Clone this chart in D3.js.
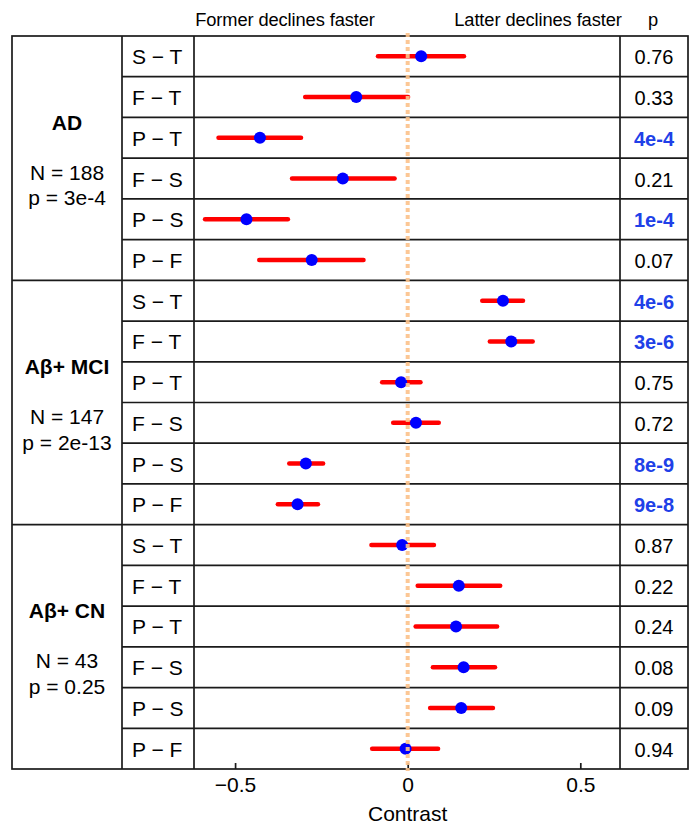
<!DOCTYPE html>
<html><head><meta charset="utf-8">
<script src="https://cdn.jsdelivr.net/npm/d3@7"></script>
<style>body{margin:0;background:#fff}svg{display:block;font-family:"Liberation Sans",Arial,sans-serif}</style>
</head><body>
<svg id="chart" width="691" height="827"></svg>
<script>
const groups = ["AD", "Aβ+ MCI", "Aβ+ CN"];
const groupN = ["188", "147", "43"];
const groupP = ["3e-4", "2e-13", "0.25"];
const contrasts = ["S − T", "F − T", "P − T", "F − S", "P − S", "P − F"];

const estAD  = [0.039, -0.149, -0.428, -0.188, -0.467, -0.278];
const loAD   = [-0.086, -0.297, -0.548, -0.335, -0.587, -0.430];
const hiAD   = [0.163, 0.001, -0.309, -0.038, -0.347, -0.128];
const pAD    = ["0.76", "0.33", "4e-4", "0.21", "1e-4", "0.07"];

const estMCI = [0.276, 0.300, -0.019, 0.024, -0.295, -0.319];
const loMCI  = [0.216, 0.238, -0.074, -0.042, -0.343, -0.376];
const hiMCI  = [0.334, 0.362, 0.037, 0.090, -0.245, -0.260];
const pMCI   = ["4e-6", "3e-6", "0.75", "0.72", "8e-9", "9e-8"];

const estCN  = [-0.016, 0.148, 0.140, 0.162, 0.155, -0.006];
const loCN   = [-0.105, 0.029, 0.023, 0.073, 0.065, -0.103];
const hiCN   = [0.076, 0.268, 0.259, 0.253, 0.247, 0.088];
const pCN    = ["0.87", "0.22", "0.24", "0.08", "0.09", "0.94"];

const xTicks = [-0.5, 0, 0.5];
const headerLeft = "Former declines faster";
const headerRight = "Latter declines faster";
const xTitle = "Contrast";

const ests = [estAD, estMCI, estCN], los = [loAD, loMCI, loCN], his = [hiAD, hiMCI, hiCN], ps = [pAD, pMCI, pCN];
const rows = [];
groups.forEach((g, gi) => contrasts.forEach((c, ci) => rows.push({
  key: gi + "-" + ci, g: gi, label: c, est: ests[gi][ci], lo: los[gi][ci], hi: his[gi][ci], p: ps[gi][ci]
})));

const L = 12, C1 = 122, C2 = 194, C3 = 620, R = 688, T = 36, B = 769;
const svg = d3.select("#chart");
const y = d3.scaleBand().domain(rows.map(d => d.key)).range([T, B]);
const x = d3.scaleLinear().domain([-0.619, 0.615]).range([C2, C3]);
const rh = y.bandwidth();
const lineCol = "#1a1a1a";

// row separators
svg.append("g").selectAll("line").data(rows.slice(1)).join("line")
  .attr("x1", d => (+d.key.split("-")[1] === 0) ? L : C1).attr("x2", R)
  .attr("y1", d => y(d.key)).attr("y2", d => y(d.key))
  .attr("stroke", lineCol).attr("stroke-width", 1.7);

// frame & column lines
const fr = svg.append("g").attr("stroke", lineCol).attr("stroke-width", 1.7).attr("fill", "none");
fr.append("rect").attr("x", L).attr("y", T).attr("width", R - L).attr("height", B - T);
[C1, C2, C3].forEach(cx => fr.append("line").attr("x1", cx).attr("x2", cx).attr("y1", T).attr("y2", B));

// group labels
groups.forEach((g, gi) => {
  const y0 = y(gi + "-0"), y1 = y(gi + "-5") + rh, cy = (y0 + y1) / 2, cx = (L + C1) / 2;
  svg.append("text").attr("x", cx).attr("y", cy - 28.5).attr("text-anchor", "middle")
    .attr("font-size", 21).attr("font-weight", "bold").text(g);
  svg.append("text").attr("x", cx).attr("y", cy + 21.5).attr("text-anchor", "middle")
    .attr("font-size", 21).text("N = " + groupN[gi]);
  svg.append("text").attr("x", cx).attr("y", cy + 47).attr("text-anchor", "middle")
    .attr("font-size", 21).text("p = " + groupP[gi]);
});

// row labels
svg.append("g").selectAll("text").data(rows).join("text")
  .attr("x", 132).attr("y", d => y(d.key) + rh / 2 + 8)
  .attr("font-size", 21).text(d => d.label);

// p values
svg.append("g").selectAll("text").data(rows).join("text")
  .attr("x", (C3 + R) / 2).attr("y", d => y(d.key) + rh / 2 + 8)
  .attr("text-anchor", "middle").attr("font-size", 20)
  .attr("font-weight", d => parseFloat(d.p) < 0.05 ? "bold" : "normal")
  .attr("fill", d => parseFloat(d.p) < 0.05 ? "#2040e8" : "#000")
  .text(d => d.p);

// CI lines
svg.append("g").selectAll("line").data(rows).join("line")
  .attr("x1", d => x(d.lo)).attr("x2", d => x(d.hi))
  .attr("y1", d => y(d.key) + rh / 2).attr("y2", d => y(d.key) + rh / 2)
  .attr("stroke", "#ff0000").attr("stroke-width", 4.5).attr("stroke-linecap", "round");

// points
svg.append("g").selectAll("circle").data(rows).join("circle")
  .attr("cx", d => x(d.est)).attr("cy", d => y(d.key) + rh / 2).attr("r", 6)
  .attr("fill", "#0000ff");

// x axis
const axis = svg.append("g").attr("transform", `translate(0,${B})`)
  .call(d3.axisBottom(x).tickValues(xTicks).tickSize(-6).tickPadding(10)
    .tickFormat(d => d === 0 ? "0" : d3.format(".1f")(d).replace("-", "–")));
axis.select(".domain").remove();
axis.selectAll(".tick line").attr("stroke", lineCol).attr("stroke-width", 1.7);
axis.selectAll(".tick text").attr("font-size", 21).attr("font-family", "Liberation Sans, Arial, sans-serif").attr("fill", "#000").attr("dy", "0.71em").attr("y", 8);

// zero reference line (dotted, on top)
svg.append("line").attr("x1", x(0)).attr("x2", x(0)).attr("y1", 33).attr("y2", B + 2)
  .attr("stroke", "#fcc28a").attr("stroke-width", 4).attr("stroke-dasharray", "4,3")
  .attr("opacity", 0.9);

// headers
svg.append("text").attr("x", 285).attr("y", 26).attr("text-anchor", "middle").attr("font-size", 18.3)
  .attr("letter-spacing", -0.1).text(headerLeft);
svg.append("text").attr("x", 538).attr("y", 26).attr("text-anchor", "middle").attr("font-size", 18.3)
  .attr("letter-spacing", -0.1).text(headerRight);
svg.append("text").attr("x", 653).attr("y", 26).attr("text-anchor", "middle").attr("font-size", 18.3).text("p");

// x title
svg.append("text").attr("x", x(0)).attr("y", 821).attr("text-anchor", "middle").attr("font-size", 21).text(xTitle);
</script>
</body></html>
